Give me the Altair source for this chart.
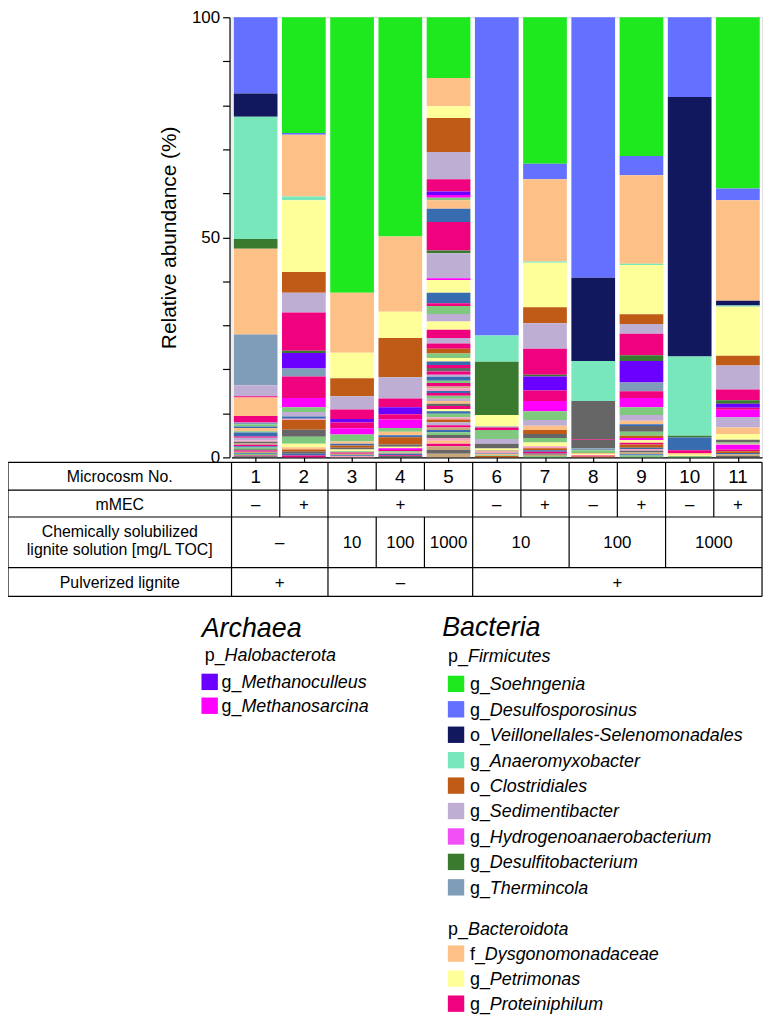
import altair as alt
import pandas as pd

# ---------------- data ----------------
microcosms = list(range(1, 12))

taxon_codes = ["SOE", "DES", "VEI", "ANA", "CLO", "SED", "HYD", "DSF", "THE",
               "DYS", "PET", "PRO", "MCU", "MSA", "LG", "SB", "GR", "LP", "TN"]
taxon_colors = ["#1ee81e", "#6470ff", "#12185e", "#78e8bc", "#bf5b17", "#beaed4",
                "#f050f5", "#3a7a2e", "#7f9cb8", "#fdc086", "#ffff99", "#f0027f",
                "#6a00ff", "#ff00ff", "#7fc97f", "#386cb0", "#666666", "#f4a3c0", "#c9a77c"]

# segments listed from top of bar to bottom (relative abundance, %)
bar1_taxa = ["DES", "VEI", "ANA", "DSF", "DYS", "THE", "SED", "PRO", "DYS", "PRO",
             "THE", "LG", "SB", "DYS", "LG", "SB", "PRO", "SED", "LP", "GR", "TN",
             "PRO", "SB", "LG", "GR", "PRO", "TN", "SB", "LG", "PRO", "GR"]
bar1_vals = [17.3, 5.3, 27.8, 2.2, 19.5, 11.5, 2.5, 0.3, 4.2, 1.5,
             0.4, 0.5, 0.3, 0.75, 0.3, 0.9, 0.3, 0.6, 0.3, 0.4, 0.3,
             0.3, 0.3, 0.4, 0.3, 0.3, 0.3, 0.2, 0.3, 0.2, 0.25]

bar2_taxa = ["SOE", "DES", "DYS", "ANA", "PET", "CLO", "SED", "PRO", "DSF", "MCU", "THE",
             "PRO", "MSA", "LG", "SED", "SB", "LP", "CLO", "GR", "LG", "PET", "DYS",
             "CLO", "GR", "SB", "PRO"]
bar2_vals = [26.3, 0.4, 14.0, 0.9, 16.3, 4.7, 4.5, 8.7, 0.5, 3.5, 1.8,
             4.9, 2.1, 1.1, 1.0, 0.5, 0.3, 2.2, 1.6, 1.6, 0.8, 0.5,
             0.5, 0.5, 0.4, 0.4]

bar3_taxa = ["SOE", "DYS", "PET", "CLO", "SED", "PRO", "MCU", "PRO", "MSA", "LG",
             "DYS", "SB", "CLO", "GR", "PET", "LG", "PRO", "TN", "SB", "LP"]
bar3_vals = [62.6, 13.6, 5.8, 4.1, 3.0, 2.2, 0.8, 1.3, 1.4, 1.6,
             0.5, 0.4, 0.5, 0.4, 0.4, 0.3, 0.3, 0.3, 0.2, 0.3]

bar4_taxa = ["SOE", "DYS", "PET", "CLO", "SED", "PRO", "MCU", "PRO", "MSA", "LG", "DYS",
             "SB", "CLO", "GR", "PET", "MSA", "PRO", "LG", "TN", "SB", "PRO", "GR"]
bar4_vals = [49.8, 17.1, 6.0, 8.9, 4.8, 2.0, 1.6, 1.2, 1.9, 0.9, 0.8,
             0.4, 1.7, 0.5, 0.3, 0.4, 0.3, 0.3, 0.3, 0.3, 0.2, 0.3]

bar5_taxa = ["SOE", "DYS", "PET", "CLO", "SED", "PRO", "MCU", "MSA", "LG", "DYS",
             "SB", "PRO", "DSF", "SED", "MSA", "PET", "SB", "PRO", "LG", "SED",
             "PET", "PRO", "SED", "PRO", "CLO", "LG", "PET", "SB", "PRO", "GR",
             "PRO", "SED", "SB", "LG", "PRO", "TN", "LP", "SB", "PRO", "LG",
             "SED", "DYS", "GR", "PRO", "PET", "SB", "LG", "LP", "CLO", "SED",
             "PRO", "TN", "SB", "LG", "GR", "LP", "DYS", "PRO", "TN", "GR", "TN"]
bar5_vals = [13.8, 6.4, 2.7, 7.7, 6.2, 2.8, 0.8, 0.6, 0.6, 1.9,
             3.0, 6.5, 0.6, 5.7, 0.4, 2.9, 2.4, 0.6, 1.8, 1.7,
             1.9, 1.9, 1.2, 1.2, 1.1, 1.0, 0.8, 0.8, 0.7, 0.8,
             0.7, 0.5, 0.9, 0.5, 0.8, 0.4, 0.6, 0.5, 0.6, 0.7,
             0.5, 0.6, 0.5, 0.7, 0.5, 0.6, 0.8, 0.5, 0.6, 0.7,
             0.5, 0.6, 0.5, 0.6, 0.7, 0.6, 0.7, 0.6, 0.8, 0.9, 0.8]

bar6_taxa = ["DES", "ANA", "DSF", "PET", "THE", "PRO", "LG", "SED", "GR", "PET",
             "TN", "LP", "SB", "DYS", "LG", "CLO"]
bar6_vals = [72.3, 6.0, 12.1, 2.6, 0.2, 0.6, 2.0, 1.1, 1.1, 0.4,
             0.3, 0.3, 0.2, 0.3, 0.2, 0.3]

bar7_taxa = ["SOE", "DES", "DYS", "ANA", "PET", "CLO", "SED", "PRO", "DSF", "MCU",
             "PRO", "MSA", "LG", "SED", "DYS", "CLO", "GR", "LG", "PET", "LP",
             "CLO", "SB", "PRO", "GR", "TN", "LG"]
bar7_vals = [33.3, 3.5, 18.7, 0.3, 10.1, 3.6, 5.8, 5.9, 0.4, 3.2,
             2.4, 2.3, 2.0, 1.3, 1.0, 0.9, 0.9, 1.0, 0.9, 0.4,
             0.5, 0.3, 0.4, 0.3, 0.3, 0.3]

bar8_taxa = ["DES", "VEI", "ANA", "GR", "PRO", "GR", "THE", "LG", "DYS", "PET", "PRO", "CLO"]
bar8_vals = [59.2, 18.9, 9.1, 8.6, 0.2, 2.0, 0.4, 0.6, 0.3, 0.3, 0.2, 0.2]

bar9_taxa = ["SOE", "DES", "DYS", "ANA", "PET", "CLO", "SED", "PRO", "DSF", "MCU",
             "THE", "PRO", "MSA", "LG", "SED", "DYS", "SB", "GR", "LG", "CLO",
             "MSA", "PET", "PRO", "CLO", "SB", "LP", "GR", "TN", "SB", "LG"]
bar9_vals = [31.5, 4.4, 20.1, 0.3, 11.2, 2.2, 2.2, 4.9, 1.3, 4.9,
             2.0, 1.5, 2.1, 1.8, 1.3, 0.8, 0.4, 1.3, 0.9, 0.5,
             0.5, 0.6, 0.4, 0.7, 0.3, 0.4, 0.4, 0.4, 0.3, 0.4]

bar10_taxa = ["DES", "VEI", "ANA", "DSF", "SB", "PRO", "DYS", "PET", "LG"]
bar10_vals = [18.1, 59.0, 18.0, 0.4, 2.9, 0.6, 0.4, 0.3, 0.3]

bar11_taxa = ["SOE", "DES", "DYS", "VEI", "ANA", "PET", "CLO", "SED", "PRO", "DSF",
              "MCU", "PRO", "MSA", "SED", "DYS", "PET", "GR", "LG", "LP", "MSA",
              "PRO", "CLO", "SB", "TN", "GR"]
bar11_vals = [38.9, 2.7, 22.8, 1.1, 0.3, 11.1, 2.2, 5.5, 2.4, 0.8,
              0.9, 0.5, 1.6, 2.4, 1.5, 1.3, 0.6, 0.3, 0.3, 1.0,
              0.4, 0.4, 0.3, 0.4, 0.3]

# table content
row_labels = ["Microcosm No.", "mMEC",
              "Chemically solubilized\nlignite solution [mg/L TOC]", "Pulverized lignite"]
mmec_start = [1, 2, 3, 6, 7, 8, 9, 10, 11]
mmec_end = [1, 2, 5, 6, 7, 8, 9, 10, 11]
mmec_text = ["–", "+", "+", "–", "+", "–", "+", "–", "+"]
sol_start = [1, 3, 4, 5, 6, 8, 10]
sol_end = [2, 3, 4, 5, 7, 9, 11]
sol_text = ["–", "10", "100", "1000", "10", "100", "1000"]
pul_start = [1, 3, 6]
pul_end = [2, 5, 11]
pul_text = ["+", "–", "+"]

# legend content
archaea_prefix = ["g_", "g_"]
archaea_names = ["Methanoculleus", "Methanosarcina"]
archaea_codes = ["MCU", "MSA"]
firmicutes_prefix = ["g_", "g_", "o_", "g_", "o_", "g_", "g_", "g_", "g_"]
firmicutes_names = ["Soehngenia", "Desulfosporosinus", "Veillonellales-Selenomonadales",
                    "Anaeromyxobacter", "Clostridiales", "Sedimentibacter",
                    "Hydrogenoanaerobacterium", "Desulfitobacterium", "Thermincola"]
firmicutes_codes = ["SOE", "DES", "VEI", "ANA", "CLO", "SED", "HYD", "DSF", "THE"]
bacteroidota_prefix = ["f_", "g_", "g_"]
bacteroidota_names = ["Dysgonomonadaceae", "Petrimonas", "Proteiniphilum"]
bacteroidota_codes = ["DYS", "PET", "PRO"]

# ---------------- build tables ----------------
bars = [(bar1_taxa, bar1_vals), (bar2_taxa, bar2_vals), (bar3_taxa, bar3_vals),
        (bar4_taxa, bar4_vals), (bar5_taxa, bar5_vals), (bar6_taxa, bar6_vals),
        (bar7_taxa, bar7_vals), (bar8_taxa, bar8_vals), (bar9_taxa, bar9_vals),
        (bar10_taxa, bar10_vals), (bar11_taxa, bar11_vals)]
seg_rows = []
for m, (taxa, vals) in zip(microcosms, bars):
    for k, (t, v) in enumerate(zip(taxa, vals)):
        seg_rows.append({"m": m, "k": k, "taxon": t, "v": v})
seg_df = pd.DataFrame(seg_rows)

W, H = 534, 443
X0, Y0 = 233, 14           # page position of plot origin
STEP = W / 11
PXY = H / 100


def xd(px):
    return 0.5 + (px - X0) / STEP


def yd(py):
    return (Y0 + H - py) / PXY


xscale = alt.Scale(domain=[0.5, 11.5], nice=False, zero=False, padding=0)
yscale = alt.Scale(domain=[0, 100], nice=False, zero=False)
cscale = alt.Scale(domain=taxon_codes, range=taxon_colors)
FONT = "Liberation Sans"

bar = alt.Chart(seg_df).transform_stack(
    stack="v", groupby=["m"], as_=["y0", "y1"],
    sort=[alt.SortField("k", order="descending")]
).mark_bar(size=44).encode(
    x=alt.X("m:Q", scale=xscale,
            axis=alt.Axis(values=microcosms, labels=False, title=None, grid=False,
                          tickSize=5, tickColor="black", domainColor="black",
                          domainWidth=1.2, tickWidth=1.2)),
    y=alt.Y("y0:Q", scale=yscale,
            axis=alt.Axis(values=list(range(0, 101, 10)),
                          labelExpr="datum.value % 50 === 0 ? datum.label : ''",
                          title="Relative abundance (%)", grid=False, tickSize=7,
                          tickColor="black", domainColor="black", domainWidth=1.2,
                          tickWidth=1.2, labelFontSize=17, labelColor="black",
                          labelFont=FONT, titleFont=FONT, titleFontSize=21,
                          titleFontWeight="normal", titleColor="black",
                          titlePadding=12, labelPadding=3, offset=2)),
    y2="y1:Q",
    color=alt.Color("taxon:N", scale=cscale, legend=None),
)

# ---- table ----
RB = [462, 490, 517, 568, 597]
TL = 8
LH = 18
row_cells = [
    [(m, m, str(m)) for m in microcosms],
    list(zip(mmec_start, mmec_end, mmec_text)),
    list(zip(sol_start, sol_end, sol_text)),
    list(zip(pul_start, pul_end, pul_text)),
]
rule_rows = []
for py in RB:
    rule_rows.append({"x": xd(TL), "x2": 11.5, "y": yd(py), "y2": yd(py)})
for xx in [xd(TL), 0.5, 11.5]:
    rule_rows.append({"x": xx, "x2": xx, "y": yd(RB[0]), "y2": yd(RB[-1])})
for r, cells in enumerate(row_cells):
    for (s, e, t) in cells[:-1]:
        rule_rows.append({"x": e + 0.5, "x2": e + 0.5, "y": yd(RB[r]), "y2": yd(RB[r + 1])})
rule_df = pd.DataFrame(rule_rows)

text_rows = []
for r, lab in enumerate(row_labels):
    cy = (RB[r] + RB[r + 1]) / 2
    nl = lab.count("\n")
    text_rows.append({"x": xd((TL + X0) / 2), "y": yd(cy + 1 - nl * LH / 2 - nl * 2),
                      "t": lab, "fs": 16})
    for (s, e, t) in row_cells[r]:
        text_rows.append({"x": (s + e) / 2, "y": yd(cy + 1), "t": t, "fs": 19 if r == 0 else 17})
text_df = pd.DataFrame(text_rows)

table_lines = alt.Chart(rule_df).mark_rule(color="black", strokeWidth=1.2).encode(
    x=alt.X("x:Q", scale=xscale), x2="x2:Q",
    y=alt.Y("y:Q", scale=yscale), y2="y2:Q")

table_text = alt.Chart(text_df).mark_text(
    font=FONT, color="black", align="center", baseline="middle",
    lineBreak="\n", lineHeight=LH).encode(
    x=alt.X("x:Q", scale=xscale), y=alt.Y("y:Q", scale=yscale),
    text="t:N", size=alt.Size("fs:Q", scale=None))

# ---- legend ----
FS = 18
PW = {"g_": 1.112, "o_": 1.112, "p_": 1.112, "f_": 0.834}
leg_rows = []
sw_rows = []


def add_items(prefixes, names, codes, sx, tx, y0, dy):
    for i, (p, n, c) in enumerate(zip(prefixes, names, codes)):
        cy = y0 + i * dy
        sw_rows.append({"x": xd(sx), "y": yd(cy), "taxon": c})
        leg_rows.append({"px": xd(tx), "nx": xd(tx + PW[p] * FS), "y": yd(cy + 6.5),
                         "prefix": p, "name": n})


add_items(archaea_prefix, archaea_names, archaea_codes, 211, 223, 683, 24)
add_items(firmicutes_prefix, firmicutes_names, firmicutes_codes, 459, 473, 685, 25.6)
add_items(bacteroidota_prefix, bacteroidota_names, bacteroidota_codes, 459, 473, 956.5, 25.2)
for (p, n, tx, by) in [("p_", "Halobacterota", 206, 662), ("p_", "Firmicutes", 451, 663),
                       ("p_", "Bacteroidota", 451, 938)]:
    leg_rows.append({"px": xd(tx), "nx": xd(tx + PW[p] * FS), "y": yd(by),
                     "prefix": p, "name": n})
leg_df = pd.DataFrame(leg_rows)
sw_df = pd.DataFrame(sw_rows)
head_df = pd.DataFrame({"x": [xd(203), xd(445)], "y": [yd(638), yd(637)],
                        "t": ["Archaea", "Bacteria"]})

swatches = alt.Chart(sw_df).mark_square(size=272, opacity=1).encode(
    x=alt.X("x:Q", scale=xscale), y=alt.Y("y:Q", scale=yscale),
    color=alt.Color("taxon:N", scale=cscale, legend=None))

leg_prefix = alt.Chart(leg_df).mark_text(
    font=FONT, fontSize=FS, color="black", align="left", baseline="alphabetic").encode(
    x=alt.X("px:Q", scale=xscale), y=alt.Y("y:Q", scale=yscale), text="prefix:N")

leg_name = alt.Chart(leg_df).mark_text(
    font=FONT, fontSize=FS, fontStyle="italic", color="black", align="left",
    baseline="alphabetic").encode(
    x=alt.X("nx:Q", scale=xscale), y=alt.Y("y:Q", scale=yscale), text="name:N")

headings = alt.Chart(head_df).mark_text(
    font=FONT, fontSize=27, fontStyle="italic", color="black", align="left",
    baseline="alphabetic").encode(
    x=alt.X("x:Q", scale=xscale), y=alt.Y("y:Q", scale=yscale), text="t:N")

chart = alt.layer(bar, table_lines, table_text, swatches, leg_prefix, leg_name, headings).properties(
    width=W, height=H,
    padding={"left": X0 - 8, "top": Y0 - 8, "right": 4, "bottom": 562},
    autosize=alt.AutoSizeParams(type="none"),
).configure_view(stroke=None).configure(font=FONT)

chart.save("out.html", embed_options={"renderer": "svg", "actions": False})
